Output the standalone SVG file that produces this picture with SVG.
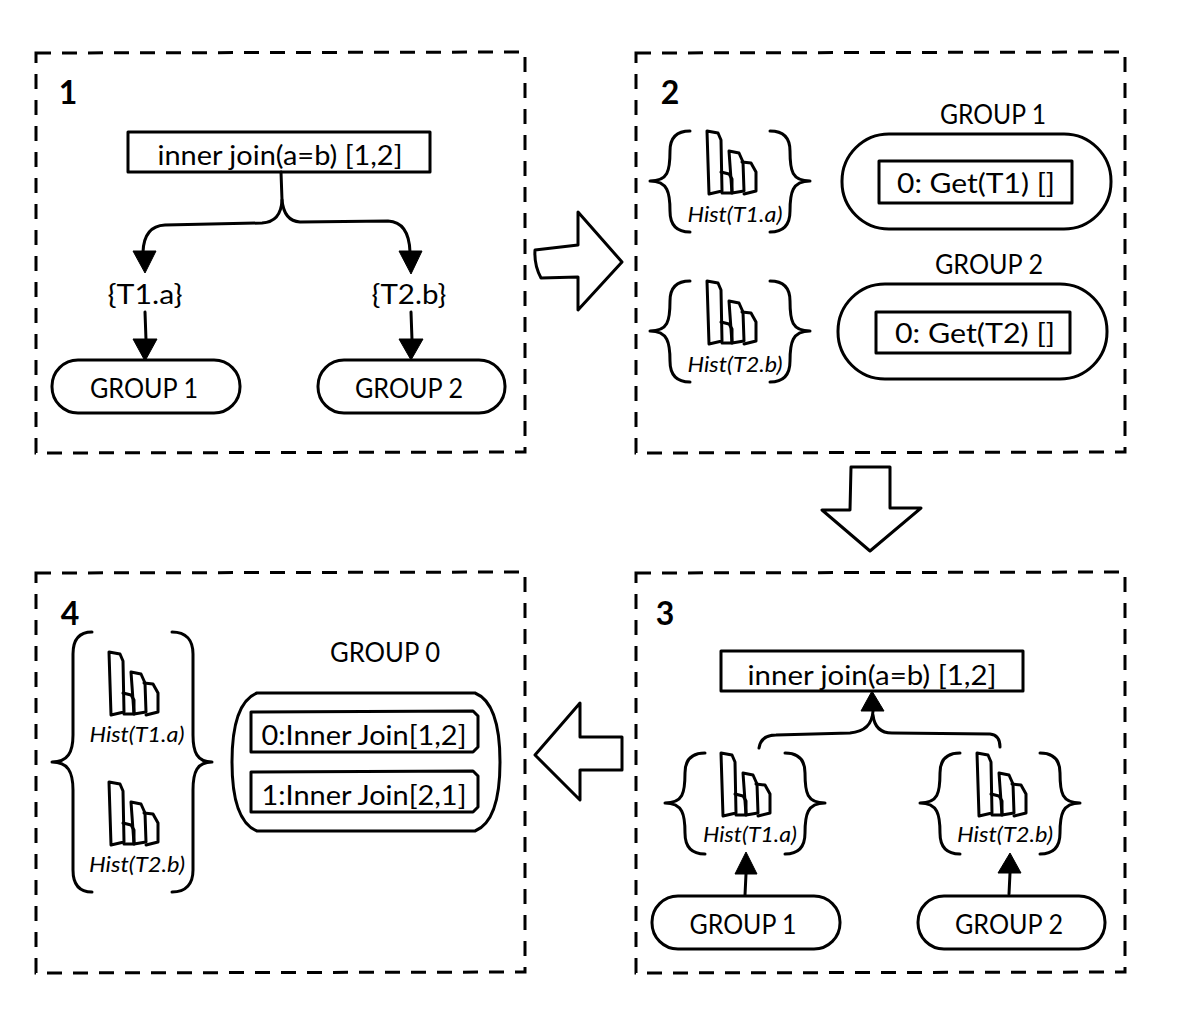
<svg xmlns="http://www.w3.org/2000/svg" xmlns:xlink="http://www.w3.org/1999/xlink" width="1190" height="1018" viewBox="0 0 1190 1018">
<style>
.s{fill:none;stroke:#000;stroke-width:3;stroke-linejoin:round;stroke-linecap:round}
.d{fill:none;stroke:#000;stroke-width:3;stroke-dasharray:15 11}
.h{fill:#000;stroke:#000;stroke-width:1;stroke-linejoin:round}
text{font-family:"Lato","Open Sans",sans-serif;fill:#000;text-anchor:middle;font-size:27px}
.n{font-size:32px;font-weight:700}
.t{font-size:21px;font-style:italic}
</style>
<defs>
<g id="hist" class="s">
<path d="M0,0L11,2L14,9L15,60L2,63Z"/>
<path d="M14,41L22,43L25,48L25,62L15,62"/>
<path d="M22,20L32,22L36,31L37,60L25,62L22,20"/>
<path d="M35,31L44,32L49,41L49,60L37,63"/>
</g>
<g id="brace" class="s">
<path d="M40,0C26,0 20,7 20,20C20,40 18,50 0,50C18,50 20,62 20,80C20,93 26,101 40,101"/>
<path d="M120,0C134,0 140,7 140,20C140,40 142,50 160,50C142,50 140,62 140,80C140,93 134,101 120,101"/>
</g>
</defs>
<g id="panel-1">
<path class="d" d="M36,53L525,52L525,452L36,453Z"/>
<text class="n" x="68" y="104">1</text>
</g>
<g id="panel-2">
<path class="d" d="M636,53L1125,52L1125,452L636,453Z"/>
<text class="n" x="670" y="104">2</text>
</g>
<g id="panel-3">
<path class="d" d="M636,573L1125,572L1125,972L636,973Z"/>
<text class="n" x="665" y="625">3</text>
</g>
<g id="panel-4">
<path class="d" d="M36,573L525,572L525,972L36,973Z"/>
<text class="n" x="70" y="625">4</text>
</g>
<g id="connectors">
<path class="s" d="M281,172L282,200Q281,222 262,223L165,225Q144,226 143,252"/>
<path class="s" d="M282,200Q284,221 300,222L388,221Q409,222 410,252"/>
<path class="h" d="M133,251L156,251L145,273Z"/>
<path class="h" d="M399,251L422,251L411,274Z"/>
<path class="s" d="M145,312L146,340"/>
<path class="h" d="M133,339L157,339L145,361Z"/>
<path class="s" d="M411,312L412,340"/>
<path class="h" d="M399,339L423,339L411,360Z"/>
<path class="s" d="M759,748Q761,735 776,735L850,733Q872,731 873,711"/>
<path class="s" d="M873,715Q875,733 892,733L990,734Q1000,735 1000,747"/>
<path class="h" d="M861,711L884,711L872,691Z"/>
<path class="s" d="M746,874L745,895"/>
<path class="h" d="M735,874L757,874L746,852Z"/>
<path class="s" d="M1010,873L1009,894"/>
<path class="h" d="M998,873L1021,873L1010,853Z"/>
</g>
<g id="arrow-right"><path class="s" d="M535,250L578,245L578,212L622,262L578,310L578,277L541,278Q534,265 535,250Z"/></g>
<g id="arrow-down"><path class="s" d="M851,467L890,467L890,508L921,508L870,551L822,510L850,510Z"/></g>
<g id="arrow-left"><path class="s" d="M622,737L580,737L580,703L535,755L580,800L580,770L622,770Z"/></g>
<g id="join-1">
<path class="s" d="M128,132L430,132L430,172L128,172Z"/>
<text x="280" y="165" textLength="245" lengthAdjust="spacingAndGlyphs">inner join(a=b) [1,2]</text>
</g>
<g id="set-a"><text x="145" y="304" textLength="75" lengthAdjust="spacingAndGlyphs">{T1.a}</text></g>
<g id="set-b"><text x="409" y="304" textLength="75" lengthAdjust="spacingAndGlyphs">{T2.b}</text></g>
<g id="group-1a">
<rect class="s" x="52" y="360" width="188" height="53" rx="26"/>
<text x="144" y="398" textLength="108" lengthAdjust="spacingAndGlyphs">GROUP 1</text>
</g>
<g id="group-2a">
<rect class="s" x="318" y="360" width="187" height="53" rx="26"/>
<text x="409" y="398" textLength="108" lengthAdjust="spacingAndGlyphs">GROUP 2</text>
</g>
<g id="hist-2a">
<use href="#brace" xlink:href="#brace" x="650" y="131"/>
<use href="#hist" xlink:href="#hist" x="707" y="131"/>
<text class="t" x="735" y="222" textLength="95" lengthAdjust="spacingAndGlyphs">Hist(T1.a)</text>
</g>
<g id="hist-2b">
<use href="#brace" xlink:href="#brace" x="650" y="281"/>
<use href="#hist" xlink:href="#hist" x="707" y="281"/>
<text class="t" x="735" y="372" textLength="95" lengthAdjust="spacingAndGlyphs">Hist(T2.b)</text>
</g>
<g id="group-2-1">
<text x="993" y="124" textLength="106" lengthAdjust="spacingAndGlyphs">GROUP 1</text>
<rect class="s" x="842" y="134" width="269" height="95" rx="47"/>
<rect class="s" x="879" y="161" width="193" height="42"/>
<text x="976" y="193" textLength="158" lengthAdjust="spacingAndGlyphs">0: Get(T1) []</text>
</g>
<g id="group-2-2">
<text x="989" y="274" textLength="108" lengthAdjust="spacingAndGlyphs">GROUP 2</text>
<rect class="s" x="838" y="284" width="269" height="95" rx="47"/>
<rect class="s" x="876" y="312" width="194" height="41"/>
<text x="975" y="343" textLength="160" lengthAdjust="spacingAndGlyphs">0: Get(T2) []</text>
</g>
<g id="join-3">
<path class="s" d="M721,651L1023,651L1023,691L721,691Z"/>
<text x="872" y="685" textLength="249" lengthAdjust="spacingAndGlyphs">inner join(a=b) [1,2]</text>
</g>
<g id="hist-3a">
<use href="#brace" xlink:href="#brace" x="665" y="753"/>
<use href="#hist" xlink:href="#hist" x="721" y="753"/>
<text class="t" x="750" y="842" textLength="94" lengthAdjust="spacingAndGlyphs">Hist(T1.a)</text>
</g>
<g id="hist-3b">
<use href="#brace" xlink:href="#brace" x="920" y="753"/>
<use href="#hist" xlink:href="#hist" x="977" y="753"/>
<text class="t" x="1005" y="842" textLength="96" lengthAdjust="spacingAndGlyphs">Hist(T2.b)</text>
</g>
<g id="group-3a">
<rect class="s" x="652" y="896" width="188" height="53" rx="26"/>
<text x="743" y="934" textLength="107" lengthAdjust="spacingAndGlyphs">GROUP 1</text>
</g>
<g id="group-3b">
<rect class="s" x="918" y="896" width="187" height="53" rx="26"/>
<text x="1009" y="934" textLength="108" lengthAdjust="spacingAndGlyphs">GROUP 2</text>
</g>
<g id="hist-4">
<path class="s" d="M92,632C79,632 73,640 73,654L73,735C73,752 68,762 52,762C68,762 73,772 73,790L73,870C73,884 79,892 92,892"/>
<path class="s" d="M172,632C186,632 193,640 193,654L193,735C193,752 197,762 212,762C197,762 193,772 193,790L193,870C193,884 186,892 172,892"/>
<use href="#hist" xlink:href="#hist" x="109" y="652"/>
<text class="t" x="137" y="742" textLength="95" lengthAdjust="spacingAndGlyphs">Hist(T1.a)</text>
<use href="#hist" xlink:href="#hist" x="109" y="782"/>
<text class="t" x="137" y="872" textLength="96" lengthAdjust="spacingAndGlyphs">Hist(T2.b)</text>
</g>
<g id="group-4">
<text x="385" y="662" textLength="110" lengthAdjust="spacingAndGlyphs">GROUP 0</text>
<path class="s" d="M257,693L475,693Q500,703 500,762Q500,821 475,831L257,831Q232,821 232,762Q232,703 257,693Z"/>
<path class="s" d="M251,712L473,711L478,716L478,747L473,752L251,752Z"/>
<text x="364" y="745" textLength="205" lengthAdjust="spacingAndGlyphs">0:Inner Join[1,2]</text>
<path class="s" d="M251,772L473,771L478,776L478,807L473,812L251,812Z"/>
<text x="364" y="805" textLength="205" lengthAdjust="spacingAndGlyphs">1:Inner Join[2,1]</text>
</g>
</svg>
